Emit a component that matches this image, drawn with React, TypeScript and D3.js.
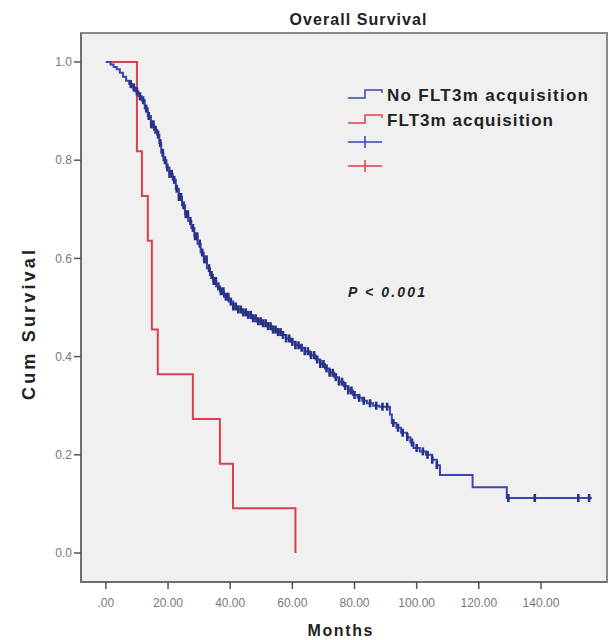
import React from 'react';
import * as d3 from 'd3';

// axis ticks
const xTicks = [0, 20, 40, 60, 80, 100, 120, 140];
const xTickLabels = ['.00', '20.00', '40.00', '60.00', '80.00', '100.00', '120.00', '140.00'];
const yTicks = [0, 0.2, 0.4, 0.6, 0.8, 1.0];
const yTickLabels = ['0.0', '0.2', '0.4', '0.6', '0.8', '1.0'];

// No FLT3m acquisition (blue) - event times (months) and survival after each step
const blueTimes = [0, 1.5, 2.5, 3.5, 4.5, 5.5, 6.5, 7.5, 8.5, 9.5, 10.5, 11.5, 12.5, 13.5, 14.5, 15.5, 16.5, 17.2, 17.8, 18.5,
  19.5, 20.5, 21.5, 22.5, 23.5, 24.5, 25.5, 26.5, 27.5, 28.5, 29.5, 30.5, 31.5, 32.5, 33.5, 34.5, 35.5, 36.7, 38, 39.5,
  41, 42.5, 44, 45.5, 47, 48.5, 50, 51.8, 53.5, 55, 56.5, 58, 59.5, 61, 62.5, 64, 65.7, 67.5, 69, 70.5,
  72, 73.5, 75, 76.5, 78, 79.5, 81, 82.5, 84, 86, 88, 91.4, 92, 93.5, 95, 96.9, 98, 99, 101, 103,
  105, 106.5, 107.5, 118, 129];
const blueSurv = [1.0, 0.995, 0.99, 0.985, 0.978, 0.97, 0.962, 0.955, 0.948, 0.94, 0.93, 0.922, 0.905, 0.89, 0.873, 0.862, 0.852, 0.835, 0.815, 0.8,
  0.785, 0.772, 0.76, 0.742, 0.725, 0.708, 0.69, 0.676, 0.662, 0.645, 0.63, 0.612, 0.598, 0.58, 0.566, 0.554, 0.543, 0.533, 0.522, 0.512,
  0.502, 0.496, 0.49, 0.485, 0.478, 0.472, 0.468, 0.462, 0.455, 0.45, 0.444, 0.437, 0.43, 0.423, 0.418, 0.411, 0.403, 0.394, 0.385, 0.376,
  0.367, 0.358, 0.349, 0.34, 0.331, 0.322, 0.316, 0.31, 0.305, 0.3, 0.298, 0.282, 0.265, 0.255, 0.245, 0.236, 0.225, 0.214, 0.207, 0.2,
  0.19, 0.179, 0.159, 0.134, 0.112];
const blueEnd = 156.4;
const blueCensored = [8, 9, 10, 11, 12, 13, 13.8, 14.6, 15.3, 16, 16.8, 17.5, 18.3, 19, 19.8, 20.5, 21.2, 22, 22.8, 23.5,
  24.2, 25, 25.7, 26.4, 27.2, 28, 28.7, 29.4, 30.2, 31, 31.7, 32.4, 33.2, 34, 34.7, 35.4, 36.2, 37, 37.8, 38.6,
  39.4, 40.2, 41, 41.8, 42.6, 43.4, 44.2, 45, 45.8, 46.6, 47.4, 48.2, 49, 49.8, 50.6, 51.4, 52.2, 53, 53.8, 54.6,
  55.4, 56.2, 57, 58, 59, 60, 61, 62, 63, 64, 65, 66, 67, 68, 69, 70, 71, 72, 73, 74,
  75, 76, 77, 78, 79, 80, 81.5, 83, 85, 87, 89, 90.5, 92.5, 94, 95.5, 97, 98.5, 100, 102, 103.5,
  105, 106.5, 129.5, 138, 152, 155.5];

// FLT3m acquisition (red)
const redTimes = [0, 10, 11.6, 13.5, 14.8, 16.7, 28, 36.7, 40.9, 61];
const redSurv = [1.0, 0.818, 0.727, 0.636, 0.455, 0.364, 0.273, 0.182, 0.091, 0.0];

const BLUE = '#3a44b4';
const RED = '#d8404e';

export default function App() {
  const x = d3.scaleLinear().domain([-8, 160.6]).range([81, 605]);
  const y = d3.scaleLinear().domain([-0.059, 1.059]).range([582, 33]);

  const step = d3.line<[number, number]>()
    .x(d => x(d[0]))
    .y(d => y(d[1]))
    .curve(d3.curveStepAfter);

  const bluePts: [number, number][] = blueTimes.map((t, i) => [t, blueSurv[i]]);
  bluePts.push([blueEnd, blueSurv[blueSurv.length - 1]]);
  const redPts: [number, number][] = redTimes.map((t, i) => [t, redSurv[i]]);

  const survAt = (t: number) => {
    let s = 1;
    blueTimes.forEach((bt, i) => { if (bt <= t) s = blueSurv[i]; });
    return s;
  };

  const font = 'Liberation Sans, Arial, sans-serif';
  const legendX = 348;
  const legendY = [95, 120, 142, 166];

  return (
    <svg width={611} height={640} style={{ position: 'absolute', left: 0, top: 0, background: '#fff' }} fontFamily={font}>
      <rect x={81} y={33} width={526} height={549} fill="#f0f0f0" stroke="#8a8a8a" strokeWidth={2} />
      <line x1={81} y1={33} x2={81} y2={583} stroke="#6e6e6e" strokeWidth={2} />
      <line x1={80} y1={582} x2={607} y2={582} stroke="#6e6e6e" strokeWidth={2} />

      {/* y axis */}
      {yTicks.map((v, i) => (
        <g key={'y' + i}>
          <line x1={74} x2={81} y1={y(v)} y2={y(v)} stroke="#555" strokeWidth={1.5} />
          <text x={72} y={y(v)} dy="0.35em" textAnchor="end" fontSize={12} fill="#777">{yTickLabels[i]}</text>
        </g>
      ))}
      {/* x axis */}
      {xTicks.map((v, i) => (
        <g key={'x' + i}>
          <line x1={x(v)} x2={x(v)} y1={582} y2={589} stroke="#555" strokeWidth={1.5} />
          <text x={x(v)} y={603} dy="0.35em" textAnchor="middle" fontSize={12} fill="#777">{xTickLabels[i]}</text>
        </g>
      ))}

      <text x={358} y={19} dy="0.35em" textAnchor="middle" fontSize={16} fontWeight="bold" fill="#222"
        textLength={137} lengthAdjust="spacing">Overall Survival</text>
      <text x={340} y={630} dy="0.35em" textAnchor="middle" fontSize={16} fontWeight="bold" fill="#222"
        textLength={65} lengthAdjust="spacing">Months</text>
      <text transform="translate(29,325) rotate(-90)" dy="0.35em" textAnchor="middle" fontSize={18} fontWeight="bold" fill="#222"
        textLength={150} lengthAdjust="spacing">Cum Survival</text>

      {/* curves */}
      <path d={step(redPts) || ''} fill="none" stroke={RED} strokeWidth={2} />
      <path d={step(bluePts) || ''} fill="none" stroke={BLUE} strokeWidth={2} />
      {blueCensored.map((t, i) => (
        <line key={'c' + i} x1={x(t)} x2={x(t)} y1={y(survAt(t)) - 4} y2={y(survAt(t)) + 4}
          stroke="#283186" strokeWidth={2.6} />
      ))}

      <text x={348} y={292} dy="0.35em" fontSize={14} fontWeight="bold" fontStyle="italic" fill="#222"
        textLength={77} lengthAdjust="spacing">P &lt; 0.001</text>

      {/* legend */}
      <path d={`M${legendX},${legendY[0] + 3} H${legendX + 17} V${legendY[0] - 5} H${legendX + 34} V${legendY[0] - 2}`}
        fill="none" stroke={BLUE} strokeWidth={1.5} />
      <text x={387} y={legendY[0]} dy="0.35em" fontSize={17} fontWeight="bold" fill="#222"
        textLength={201} lengthAdjust="spacing">No FLT3m acquisition</text>
      <path d={`M${legendX},${legendY[1] + 3} H${legendX + 17} V${legendY[1] - 5} H${legendX + 34} V${legendY[1] - 2}`}
        fill="none" stroke={RED} strokeWidth={1.5} />
      <text x={387} y={legendY[1]} dy="0.35em" fontSize={17} fontWeight="bold" fill="#222"
        textLength={166} lengthAdjust="spacing">FLT3m acquisition</text>
      <path d={`M${legendX},${legendY[2]} H${legendX + 34} M${legendX + 17},${legendY[2] - 6} V${legendY[2] + 6}`}
        fill="none" stroke={BLUE} strokeWidth={1.5} />
      <path d={`M${legendX},${legendY[3]} H${legendX + 34} M${legendX + 17},${legendY[3] - 6} V${legendY[3] + 6}`}
        fill="none" stroke={RED} strokeWidth={1.5} />
    </svg>
  );
}
